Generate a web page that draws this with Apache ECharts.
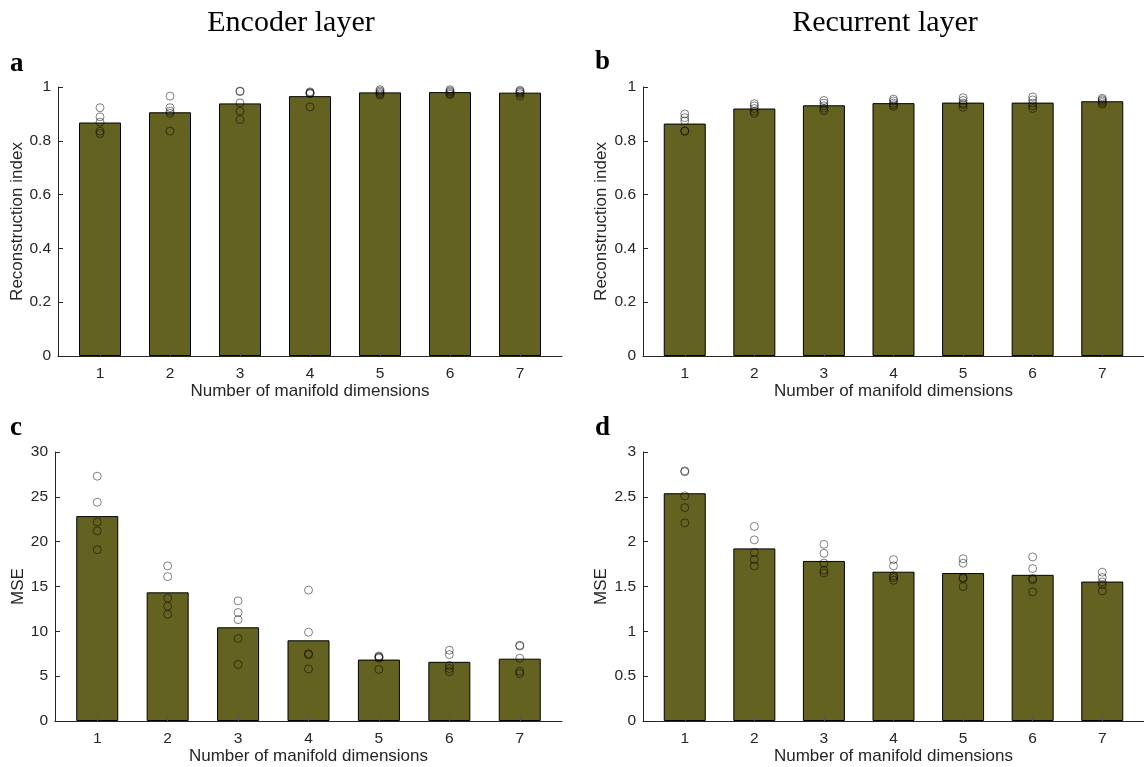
<!DOCTYPE html>
<html>
<head>
<meta charset="utf-8">
<script src="https://cdn.jsdelivr.net/npm/echarts@6/dist/echarts.min.js"></script>
<style>
  html, body { margin: 0; padding: 0; background: #fff; }
  #chart { width: 1144px; height: 767px; }
</style>
</head>
<body>
<div id="chart"></div>
<script>
// Number of manifold dimensions
const dims = [1, 2, 3, 4, 5, 6, 7];

// Reconstruction index, encoder layer: bar heights and the five runs per dimension
const encReconBars = [0.868, 0.906, 0.939, 0.966, 0.980, 0.981, 0.979];
const encReconRuns = [
  [0.923, 0.889, 0.869, 0.836, 0.827],
  [0.966, 0.923, 0.910, 0.902, 0.836],
  [0.985, 0.983, 0.941, 0.910, 0.879],
  [0.982, 0.979, 0.977, 0.975, 0.926],
  [0.990, 0.985, 0.980, 0.975, 0.970],
  [0.990, 0.985, 0.981, 0.976, 0.972],
  [0.988, 0.984, 0.980, 0.975, 0.967]
];

// Reconstruction index, recurrent layer
const recReconBars = [0.864, 0.920, 0.932, 0.940, 0.942, 0.942, 0.947];
const recReconRuns = [
  [0.900, 0.886, 0.874, 0.837, 0.835],
  [0.938, 0.930, 0.920, 0.910, 0.902],
  [0.950, 0.940, 0.930, 0.921, 0.912],
  [0.955, 0.948, 0.940, 0.934, 0.928],
  [0.960, 0.950, 0.940, 0.935, 0.925],
  [0.963, 0.952, 0.940, 0.930, 0.920],
  [0.958, 0.953, 0.948, 0.942, 0.936]
];

// MSE, encoder layer
const encMseBars = [22.85, 14.35, 10.45, 9.0, 6.85, 6.6, 6.95];
const encMseRuns = [
  [27.3, 24.4, 22.2, 21.2, 19.1],
  [17.3, 16.1, 13.7, 12.8, 11.9],
  [13.4, 12.1, 11.3, 9.2, 6.3],
  [14.6, 9.9, 7.5, 7.4, 5.8],
  [7.25, 7.15, 7.1, 7.0, 5.75],
  [7.9, 7.4, 6.2, 5.85, 5.5],
  [8.45, 8.35, 7.0, 5.55, 5.3]
];

// MSE, recurrent layer
const recMseBars = [2.54, 1.925, 1.785, 1.665, 1.65, 1.63, 1.555];
const recMseRuns = [
  [2.79, 2.78, 2.51, 2.38, 2.21],
  [2.17, 2.02, 1.88, 1.80, 1.73],
  [1.97, 1.87, 1.76, 1.68, 1.65],
  [1.80, 1.73, 1.62, 1.60, 1.57],
  [1.81, 1.76, 1.60, 1.59, 1.50],
  [1.83, 1.70, 1.59, 1.575, 1.44],
  [1.66, 1.60, 1.55, 1.52, 1.45]
];

const columnTitles = ['Encoder layer', 'Recurrent layer'];
const panelLetters = ['a', 'b', 'c', 'd'];
const xName = 'Number of manifold dimensions';
const yNames = ['Reconstruction index', 'Reconstruction index', 'MSE', 'MSE'];

const AX = '#262626';
const BAR = '#646220';
const SANS = '"Liberation Sans", Arial, sans-serif';
const SERIF = '"Liberation Serif", "DejaVu Serif", serif';

const grids = [
  { left: 58,  top: 87,  width: 504, height: 269 },
  { left: 643, top: 87,  width: 504, height: 269 },
  { left: 55,  top: 452, width: 507, height: 269 },
  { left: 643, top: 452, width: 504, height: 269 }
];
const yRanges = [
  { min: 0, max: 1,  interval: 0.2 },
  { min: 0, max: 1,  interval: 0.2 },
  { min: 0, max: 30, interval: 5 },
  { min: 0, max: 3,  interval: 0.5 }
];
const yNameGaps = [31, 33, 28, 33];
const barSets = [encReconBars, recReconBars, encMseBars, recMseBars];
const runSets = [encReconRuns, recReconRuns, encMseRuns, recMseRuns];

// axes sit above the bars so the inward x ticks show through
const xAxes = grids.map((g, i) => ({
  type: 'value',
  gridIndex: i,
  min: 0.4,
  max: 7.6,
  z: 5,
  name: xName,
  nameLocation: 'middle',
  nameGap: 27,
  nameTextStyle: { fontFamily: SANS, fontSize: 17, color: AX },
  splitLine: { show: false },
  axisLine: { show: true, onZero: false, lineStyle: { color: AX, width: 1 } },
  axisTick: { show: true, inside: true, length: 5, customValues: dims, lineStyle: { color: '#555', width: 1 } },
  axisLabel: { customValues: dims, fontFamily: SANS, fontSize: 15.5, color: AX, margin: 10 }
}));

const yAxes = grids.map((g, i) => ({
  type: 'value',
  gridIndex: i,
  min: yRanges[i].min,
  max: yRanges[i].max,
  interval: yRanges[i].interval,
  z: 5,
  name: yNames[i],
  nameLocation: 'middle',
  nameGap: yNameGaps[i],
  nameTextStyle: { fontFamily: SANS, fontSize: 17, color: AX },
  splitLine: { show: false },
  axisLine: { show: true, lineStyle: { color: AX, width: 1 } },
  axisTick: { show: true, inside: true, length: 5, lineStyle: { color: AX, width: 1 } },
  axisLabel: { fontFamily: SANS, fontSize: 15.5, color: AX, margin: 7 }
}));

const series = [];
barSets.forEach((bars, i) => {
  series.push({
    type: 'bar',
    xAxisIndex: i,
    yAxisIndex: i,
    barWidth: 42,
    data: dims.map((d, k) => [d, bars[k]]),
    itemStyle: { color: BAR, borderColor: '#000', borderWidth: 1 },
    silent: true,
    z: 2
  });
  const pts = [];
  runSets[i].forEach((runs, k) => runs.forEach(v => pts.push([dims[k], v])));
  series.push({
    type: 'scatter',
    xAxisIndex: i,
    yAxisIndex: i,
    symbol: 'circle',
    symbolSize: 8,
    data: pts,
    itemStyle: { color: 'rgba(0,0,0,0)', borderColor: 'rgba(0,0,0,0.62)', borderWidth: 1 },
    silent: true,
    z: 3
  });
});

const graphic = [
  { type: 'text', x: 291, y: 23, style: { text: columnTitles[0], font: '30px ' + SERIF, fill: '#000', align: 'center', verticalAlign: 'middle' } },
  { type: 'text', x: 885, y: 23, style: { text: columnTitles[1], font: '30px ' + SERIF, fill: '#000', align: 'center', verticalAlign: 'middle' } },
  { type: 'text', x: 10,  y: 64,  style: { text: panelLetters[0], font: 'bold 27px ' + SERIF, fill: '#000', align: 'left', verticalAlign: 'middle' } },
  { type: 'text', x: 595, y: 62,  style: { text: panelLetters[1], font: 'bold 27px ' + SERIF, fill: '#000', align: 'left', verticalAlign: 'middle' } },
  { type: 'text', x: 10,  y: 428, style: { text: panelLetters[2], font: 'bold 27px ' + SERIF, fill: '#000', align: 'left', verticalAlign: 'middle' } },
  { type: 'text', x: 595, y: 428, style: { text: panelLetters[3], font: 'bold 27px ' + SERIF, fill: '#000', align: 'left', verticalAlign: 'middle' } }
];

const chart = echarts.init(document.getElementById('chart'), null, { renderer: 'canvas' });
chart.setOption({
  animation: false,
  backgroundColor: '#fff',
  grid: grids,
  xAxis: xAxes,
  yAxis: yAxes,
  series: series,
  graphic: graphic
});
</script>
</body>
</html>
